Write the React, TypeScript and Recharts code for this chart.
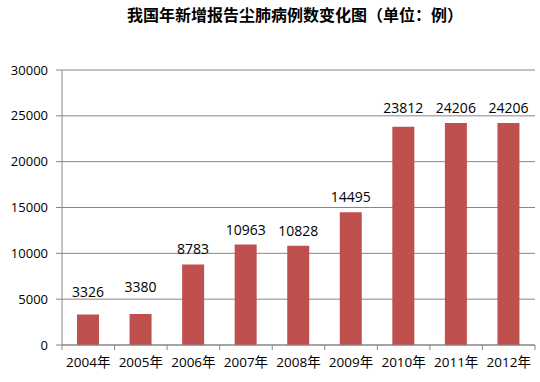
import React from "react";
import { BarChart, Bar, XAxis, YAxis, CartesianGrid, LabelList } from "recharts";

const categories = ["2004年", "2005年", "2006年", "2007年", "2008年", "2009年", "2010年", "2011年", "2012年"];
const cases = [3326, 3380, 8783, 10963, 10828, 14495, 23812, 24206, 24206];
const yTicks = [0, 5000, 10000, 15000, 20000, 25000, 30000];
const title = "我国年新增报告尘肺病例数变化图（单位：例）";

const data = categories.map((c, i) => ({ name: c, value: cases[i] }));

// style: extra upward nudge (px) of some value labels, as placed in the original
const labelNudge = [8, 12, 0, 0, 0, 0, 4, 0, 0];

const FONT = "'Open Sans', 'Noto Sans CJK SC', sans-serif";
const AXIS = "#868686";

const XTick = (props: any) => {
  const { x, y, payload, index } = props;
  const half = payload && payload.offset ? payload.offset : 26.3;
  return (
    <g>
      <line x1={x - half} y1={y - 8} x2={x - half} y2={y - 3} stroke={AXIS} />
      {index === categories.length - 1 && (
        <line x1={x + half} y1={y - 8} x2={x + half} y2={y - 3} stroke={AXIS} />
      )}
      <text x={x} y={y + 14} textAnchor="middle" fontSize={13.5} fill="#000" fontFamily={FONT}>
        {payload.value}
      </text>
    </g>
  );
};

const ValueLabel = (props: any) => {
  const { x, y, width, value, index } = props;
  const nudge = labelNudge[index] || 0;
  return (
    <text
      x={x + width / 2}
      y={y - 10 - nudge}
      textAnchor="middle"
      fontSize={14}
      fill="#000"
      fontFamily={FONT}
    >
      {value}
    </text>
  );
};

export default function App() {
  return (
    <div style={{ position: "absolute", left: 0, top: 0, width: 540, height: 382, background: "#fff" }}>
      <div
        style={{
          position: "absolute",
          left: 0,
          width: 590,
          top: 2,
          textAlign: "center",
          fontFamily: "'Noto Sans CJK SC', sans-serif",
          fontWeight: "bold",
          fontSize: 16,
          color: "#000",
        }}
      >
        {title}
      </div>
      <BarChart
        width={540}
        height={382}
        data={data}
        margin={{ top: 70, right: 5, bottom: 7, left: 0 }}
        barCategoryGap="59%"
      >
        <CartesianGrid vertical={false} stroke={AXIS} />
        <XAxis
          dataKey="name"
          stroke={AXIS}
          tickLine={false}
          tick={<XTick />}
          height={30}
          interval={0}
        />
        <YAxis
          domain={[0, 30000]}
          ticks={yTicks}
          stroke={AXIS}
          width={62}
          tickSize={6}
          tickMargin={8}
          tick={{ fill: "#000", fontSize: 13, fontFamily: FONT }}
        />
        <Bar dataKey="value" fill="#C0504D" barSize={22} isAnimationActive={false}>
          <LabelList dataKey="value" content={<ValueLabel />} />
        </Bar>
      </BarChart>
    </div>
  );
}
